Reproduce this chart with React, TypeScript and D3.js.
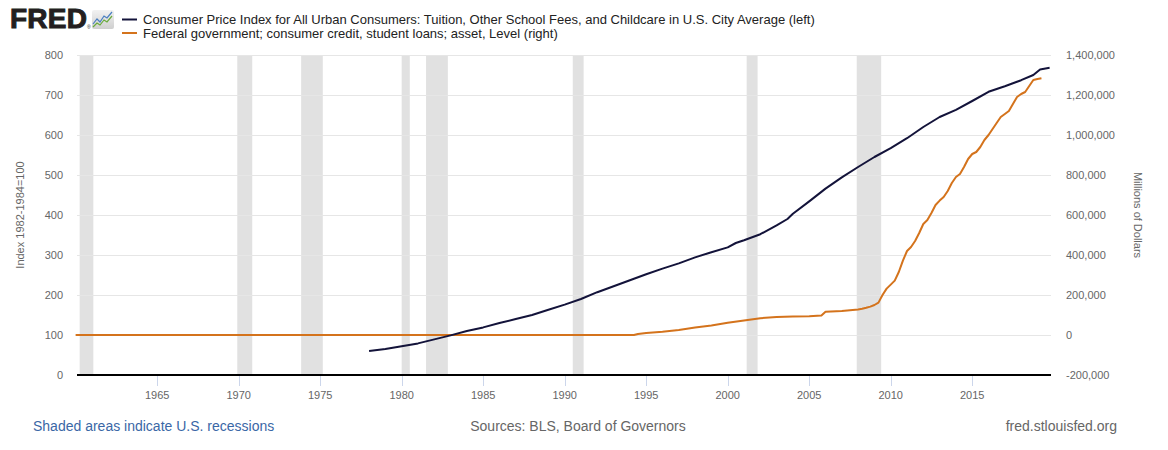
import React, { useEffect, useRef } from 'react';
import * as d3 from 'd3';

// CPI: Tuition, other school fees, and childcare (index 1982-84=100), left axis
const tuitionCpi: [string, number][] = [
  ['1978-01-01', 60], ['1979-01-01', 65], ['1980-01-01', 72], ['1981-01-01', 79],
  ['1982-01-01', 89], ['1983-01-01', 99], ['1984-01-01', 110], ['1985-01-01', 119],
  ['1986-01-01', 130], ['1987-01-01', 140], ['1988-01-01', 150], ['1989-01-01', 163],
  ['1990-01-01', 176], ['1991-01-01', 190], ['1992-01-01', 207], ['1993-01-01', 222],
  ['1994-01-01', 237], ['1995-01-01', 252], ['1996-01-01', 266], ['1997-01-01', 279],
  ['1998-01-01', 294], ['1999-01-01', 307], ['2000-01-01', 319], ['2000-07-01', 330],
  ['2001-01-01', 337], ['2002-01-01', 352], ['2003-01-01', 374], ['2003-09-01', 390],
  ['2004-01-01', 403], ['2005-01-01', 434], ['2006-01-01', 466], ['2007-01-01', 494],
  ['2008-01-01', 520], ['2009-01-01', 545], ['2010-01-01', 567], ['2011-01-01', 592],
  ['2012-01-01', 620], ['2013-01-01', 645], ['2014-01-01', 663], ['2015-01-01', 685],
  ['2016-01-01', 708], ['2017-01-01', 722], ['2018-01-01', 737], ['2018-10-01', 750],
  ['2019-03-01', 764], ['2019-10-01', 768],
];

// Federal government consumer credit, student loans (millions of dollars), right axis
const studentLoans: [string, number][] = [
  ['1960-01-01', 0], ['1994-04-01', 0], ['1994-07-01', 5000], ['1995-01-01', 10000],
  ['1996-01-01', 16000], ['1997-01-01', 25000], ['1998-01-01', 37000], ['1999-01-01', 48000],
  ['2000-01-01', 61000], ['2001-01-01', 73000], ['2002-01-01', 84000], ['2003-01-01', 90000],
  ['2004-01-01', 92000], ['2005-01-01', 94000], ['2005-10-01', 97000], ['2006-01-01', 116000],
  ['2007-01-01', 120000], ['2008-01-01', 128000], ['2008-04-01', 131000], ['2008-07-01', 136000],
  ['2008-10-01', 142000], ['2009-01-01', 150000], ['2009-04-01', 162000], ['2009-07-01', 200000],
  ['2009-10-01', 232000], ['2010-01-01', 252000], ['2010-04-01', 272000], ['2010-07-01', 315000],
  ['2010-10-01', 372000], ['2011-01-01', 420000], ['2011-04-01', 440000], ['2011-07-01', 470000],
  ['2011-10-01', 510000], ['2012-01-01', 555000], ['2012-04-01', 575000], ['2012-07-01', 610000],
  ['2012-10-01', 650000], ['2013-01-01', 672000], ['2013-04-01', 690000], ['2013-07-01', 720000],
  ['2013-10-01', 760000], ['2014-01-01', 790000], ['2014-04-01', 805000], ['2014-07-01', 840000],
  ['2014-10-01', 880000], ['2015-01-01', 905000], ['2015-04-01', 915000], ['2015-07-01', 940000],
  ['2015-10-01', 975000], ['2016-01-01', 1000000], ['2016-04-01', 1030000], ['2016-07-01', 1060000],
  ['2016-10-01', 1090000], ['2017-01-01', 1105000], ['2017-04-01', 1120000], ['2017-07-01', 1155000],
  ['2017-10-01', 1190000], ['2018-01-01', 1205000], ['2018-04-01', 1215000], ['2018-07-01', 1245000],
  ['2018-10-01', 1275000], ['2019-01-01', 1280000], ['2019-04-01', 1284000],
];

const recessions: [string, string][] = [
  ['1960-04-01', '1961-02-01'], ['1969-12-01', '1970-11-01'], ['1973-11-01', '1975-03-01'],
  ['1980-01-01', '1980-07-01'], ['1981-07-01', '1982-11-01'], ['1990-07-01', '1991-03-01'],
  ['2001-03-01', '2001-11-01'], ['2007-12-01', '2009-06-01'],
];

const leftTicks = [0, 100, 200, 300, 400, 500, 600, 700, 800];
const rightTicks = [-200000, 0, 200000, 400000, 600000, 800000, 1000000, 1200000, 1400000];
const yearTicks = [1965, 1970, 1975, 1980, 1985, 1990, 1995, 2000, 2005, 2010, 2015];

const legendLabels = [
  'Consumer Price Index for All Urban Consumers: Tuition, Other School Fees, and Childcare in U.S. City Average (left)',
  'Federal government; consumer credit, student loans; asset, Level (right)',
];

const FONT = '"Liberation Sans", Arial, sans-serif';

export default function App() {
  const svgRef = useRef<SVGSVGElement>(null);

  useEffect(() => {
    if (!svgRef.current) return;
    document.body.style.margin = '0';
    const parse = d3.timeParse('%Y-%m-%d');
    const fmt = d3.formatLocale({ decimal: '.', thousands: ',', grouping: [3], currency: ['$', ''], minus: '-' }).format(',');

    const svg = d3.select(svgRef.current);
    svg.selectAll('*').remove();

    const left = 77, right = 1051, top = 55, bottom = 375;

    const x = d3.scaleTime()
      .domain([parse('1960-02-01')!, parse('2019-11-01')!])
      .range([left, right]);
    const yL = d3.scaleLinear().domain([0, 800]).range([bottom, top]);
    const yR = d3.scaleLinear().domain([-200000, 1400000]).range([bottom, top]);

    // recession shading
    svg.append('g')
      .selectAll('rect')
      .data(recessions)
      .enter()
      .append('rect')
      .attr('x', d => x(parse(d[0])!))
      .attr('width', d => x(parse(d[1])!) - x(parse(d[0])!))
      .attr('y', top)
      .attr('height', bottom - top)
      .attr('fill', '#e1e1e1');

    // gridlines
    svg.append('g')
      .selectAll('line')
      .data(leftTicks.filter(t => t > 0))
      .enter()
      .append('line')
      .attr('x1', left)
      .attr('x2', right)
      .attr('y1', d => Math.round(yL(d)) + 0.5)
      .attr('y2', d => Math.round(yL(d)) + 0.5)
      .attr('stroke', '#e6e6e6')
      .attr('stroke-width', 1);

    // left tick labels
    svg.append('g')
      .selectAll('text')
      .data(leftTicks)
      .enter()
      .append('text')
      .attr('x', 63)
      .attr('y', d => yL(d) + 4)
      .attr('text-anchor', 'end')
      .attr('font-family', FONT)
      .attr('font-size', 11)
      .attr('fill', '#666666')
      .text(d => String(d));

    // right tick labels
    svg.append('g')
      .selectAll('text')
      .data(rightTicks)
      .enter()
      .append('text')
      .attr('x', 1066)
      .attr('y', d => yR(d) + 4)
      .attr('text-anchor', 'start')
      .attr('font-family', FONT)
      .attr('font-size', 11)
      .attr('fill', '#666666')
      .text(d => fmt(d));

    // axis titles
    svg.append('text')
      .attr('transform', `translate(24,${(top + bottom) / 2}) rotate(-90)`)
      .attr('text-anchor', 'middle')
      .attr('font-family', FONT)
      .attr('font-size', 11)
      .attr('fill', '#666666')
      .text('Index 1982-1984=100');

    svg.append('text')
      .attr('transform', `translate(1134,${(top + bottom) / 2}) rotate(90)`)
      .attr('text-anchor', 'middle')
      .attr('font-family', FONT)
      .attr('font-size', 11)
      .attr('fill', '#666666')
      .text('Millions of Dollars');

    // series lines
    const cpiLine = d3.line<[string, number]>()
      .x(d => x(parse(d[0])!))
      .y(d => yL(d[1]));
    const loanLine = d3.line<[string, number]>()
      .x(d => x(parse(d[0])!))
      .y(d => yR(d[1]));

    svg.append('path')
      .datum(studentLoans)
      .attr('d', loanLine)
      .attr('fill', 'none')
      .attr('stroke', '#d4731c')
      .attr('stroke-width', 2)
      .attr('stroke-linejoin', 'round');

    svg.append('path')
      .datum(tuitionCpi)
      .attr('d', cpiLine)
      .attr('fill', 'none')
      .attr('stroke', '#13133a')
      .attr('stroke-width', 2)
      .attr('stroke-linejoin', 'round');

    // bottom axis
    svg.append('line')
      .attr('x1', left)
      .attr('x2', right)
      .attr('y1', bottom)
      .attr('y2', bottom)
      .attr('stroke', '#000')
      .attr('stroke-width', 2);

    const xt = svg.append('g');
    xt.selectAll('line')
      .data(yearTicks)
      .enter()
      .append('line')
      .attr('x1', d => Math.round(x(new Date(d, 0, 1))) + 0.5)
      .attr('x2', d => Math.round(x(new Date(d, 0, 1))) + 0.5)
      .attr('y1', bottom + 1)
      .attr('y2', bottom + 11)
      .attr('stroke', '#ccd6eb');
    xt.selectAll('text')
      .data(yearTicks)
      .enter()
      .append('text')
      .attr('x', d => x(new Date(d, 0, 1)))
      .attr('y', bottom + 24)
      .attr('text-anchor', 'middle')
      .attr('font-family', FONT)
      .attr('font-size', 11)
      .attr('fill', '#666666')
      .text(d => String(d));

    // legend
    const legendColors = ['#13133a', '#d4731c'];
    const lg = svg.append('g');
    legendLabels.forEach((label, i) => {
      const cy = 19.5 + i * 13.5;
      lg.append('line')
        .attr('x1', 122).attr('x2', 137)
        .attr('y1', cy).attr('y2', cy)
        .attr('stroke', legendColors[i])
        .attr('stroke-width', 2);
      lg.append('text')
        .attr('x', 143)
        .attr('y', cy + 4.5)
        .attr('font-family', FONT)
        .attr('font-size', 13)
        .attr('fill', '#222222')
        .text(label);
    });

    // FRED logo
    const logo = svg.append('g');
    logo.append('text')
      .attr('x', 10)
      .attr('y', 28)
      .attr('font-family', FONT)
      .attr('font-weight', 900)
      .attr('font-size', 28)
      .attr('fill', '#231f20')
      .attr('stroke', '#231f20')
      .attr('stroke-width', 1)
      .attr('textLength', 77)
      .text('FRED');
    logo.append('text')
      .attr('x', 87)
      .attr('y', 29)
      .attr('font-family', FONT)
      .attr('font-size', 5)
      .attr('fill', '#231f20')
      .text('®');
    const grad = svg.append('defs').append('linearGradient')
      .attr('id', 'logo-bg').attr('x1', 0).attr('y1', 0).attr('x2', 0).attr('y2', 1);
    grad.append('stop').attr('offset', '0%').attr('stop-color', '#f2f2f2');
    grad.append('stop').attr('offset', '100%').attr('stop-color', '#cfcfcf');
    logo.append('rect')
      .attr('x', 92).attr('y', 10).attr('width', 22).attr('height', 19).attr('rx', 2)
      .attr('fill', 'url(#logo-bg)');
    logo.append('path')
      .attr('d', 'M93,24 L97,19 L100,22 L104,16 L107,18 L112,12')
      .attr('fill', 'none').attr('stroke', '#4a7fc1').attr('stroke-width', 1.2);
    logo.append('path')
      .attr('d', 'M93,27 L97,23 L100,25 L104,20 L107,22 L112,16')
      .attr('fill', 'none').attr('stroke', '#6aab3c').attr('stroke-width', 1.2);

    // footer
    svg.append('text')
      .attr('x', 33)
      .attr('y', 431)
      .attr('font-family', FONT)
      .attr('font-size', 14)
      .attr('fill', '#3a67a6')
      .text('Shaded areas indicate U.S. recessions');
    svg.append('text')
      .attr('x', 578)
      .attr('y', 431)
      .attr('text-anchor', 'middle')
      .attr('font-family', FONT)
      .attr('font-size', 14)
      .attr('fill', '#666666')
      .text('Sources: BLS, Board of Governors');
    svg.append('text')
      .attr('x', 1117)
      .attr('y', 431)
      .attr('text-anchor', 'end')
      .attr('font-family', FONT)
      .attr('font-size', 14)
      .attr('fill', '#666666')
      .text('fred.stlouisfed.org');
  }, []);

  return (
    <div style={{ width: 1168, height: 450, background: '#fff' }}>
      <svg ref={svgRef} width={1168} height={450} style={{ display: 'block' }} />
    </div>
  );
}
